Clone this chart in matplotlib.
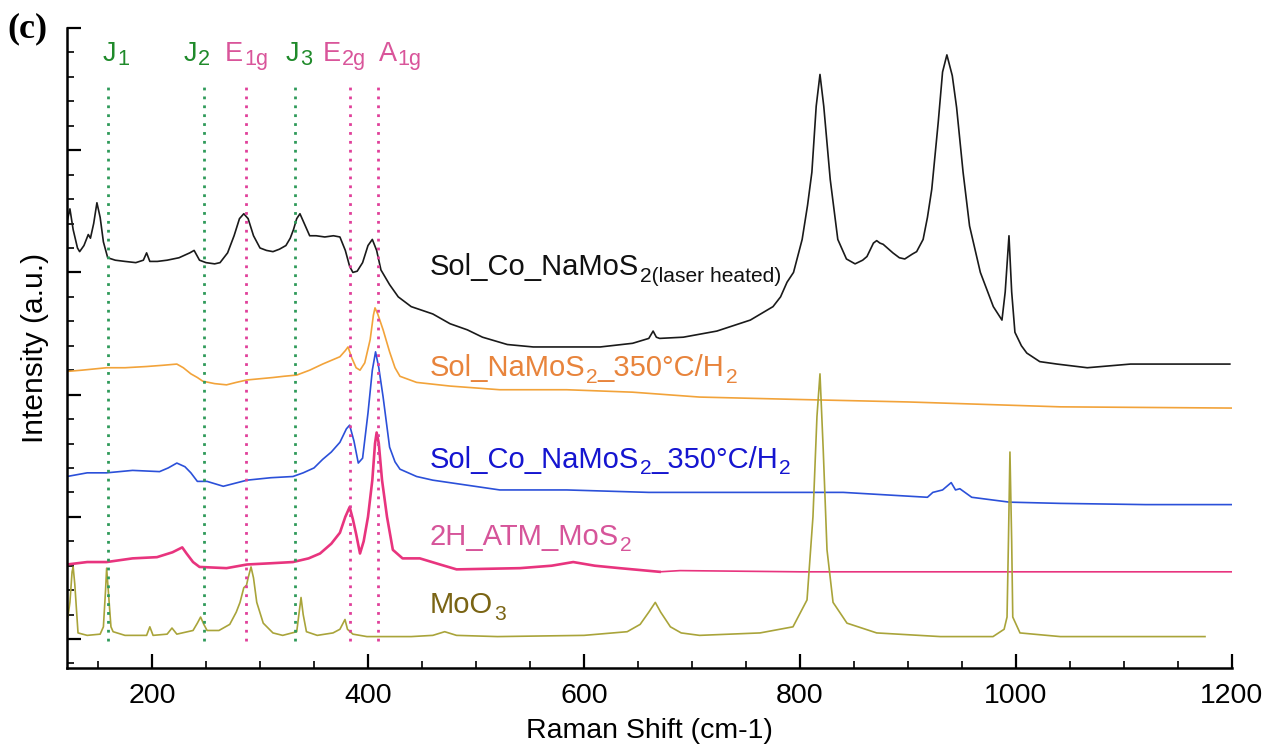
import numpy as np
import matplotlib
matplotlib.use("Agg")
import matplotlib.pyplot as plt
from matplotlib.ticker import MultipleLocator, NullFormatter

plt.rcParams['font.family'] = ['Liberation Sans', 'DejaVu Sans']

# ---------------- data (offsets included) ----------------
black_x = [121.5, 124, 127, 131, 133, 137, 141, 143, 146, 149, 152, 155, 159, 166, 175, 185, 192, 195, 198,
           205, 214, 225, 235, 239, 244, 250, 258, 263, 270, 276, 281, 285, 289, 294, 300, 306, 312, 318,
           324, 328, 331, 334, 337, 341, 346, 352, 360, 368, 374, 379, 383, 386, 390, 395, 400, 404, 408,
           412, 416, 420, 428, 440, 460, 476, 492, 506, 529, 553, 584, 615, 645, 660, 664, 667, 670, 692,
           723, 754, 775, 782, 788, 794, 802, 807, 811, 815, 818.5, 822, 828, 835, 843, 851, 858, 862,
           868, 871, 874, 877, 886, 892, 897, 904, 908, 914, 918, 922, 928, 932, 936, 939, 941, 945, 951,
           957, 967, 979, 987, 990, 993.5, 996, 999, 1005, 1010, 1022, 1038, 1066, 1106, 1152, 1198]
black_y = [3.42, 3.52, 3.35, 3.20, 3.17, 3.22, 3.31, 3.28, 3.40, 3.57, 3.45, 3.25, 3.12, 3.10, 3.09, 3.08,
           3.10, 3.16, 3.09, 3.09, 3.10, 3.12, 3.16, 3.18, 3.10, 3.08, 3.07, 3.08, 3.16, 3.30, 3.44, 3.48,
           3.44, 3.30, 3.20, 3.18, 3.17, 3.19, 3.22, 3.28, 3.35, 3.44, 3.48, 3.40, 3.30, 3.30, 3.29, 3.30,
           3.29, 3.18, 3.05, 3.00, 3.01, 3.08, 3.22, 3.27, 3.18, 3.02, 2.96, 2.90, 2.80, 2.72, 2.66, 2.58,
           2.53, 2.47, 2.41, 2.39, 2.39, 2.39, 2.42, 2.46, 2.52, 2.47, 2.46, 2.47, 2.52, 2.61, 2.72, 2.80,
           2.92, 3.00, 3.27, 3.55, 3.82, 4.36, 4.62, 4.36, 3.76, 3.27, 3.11, 3.07, 3.10, 3.13, 3.24, 3.26,
           3.24, 3.23, 3.16, 3.12, 3.11, 3.15, 3.17, 3.27, 3.45, 3.68, 4.23, 4.64, 4.78, 4.68, 4.61, 4.35,
           3.82, 3.38, 3.00, 2.72, 2.61, 2.84, 3.30, 2.84, 2.51, 2.40, 2.34, 2.27, 2.25, 2.22, 2.25, 2.25,
           2.25]

orange_x = [121.5, 135, 158, 175, 195, 210, 223, 229, 236, 242, 247, 258, 269, 278, 288, 300, 312, 322,
            334, 346, 358, 366, 374, 379, 381.5, 385, 389, 392.6, 397, 402, 405, 406.5, 409, 414, 420, 425,
            429.6, 445, 476, 522, 584, 645, 707, 800, 900, 1041, 1200]
orange_y = [2.19, 2.20, 2.22, 2.22, 2.23, 2.24, 2.25, 2.22, 2.17, 2.14, 2.11, 2.09, 2.08, 2.10, 2.12, 2.13,
            2.14, 2.15, 2.16, 2.20, 2.25, 2.28, 2.31, 2.36, 2.39, 2.30, 2.22, 2.20, 2.26, 2.45, 2.65, 2.71,
            2.66, 2.53, 2.35, 2.22, 2.15, 2.10, 2.07, 2.04, 2.04, 2.02, 1.98, 1.96, 1.94, 1.90, 1.89]

blue_x = [121.3, 140, 158, 182, 207, 215, 223, 230.5, 236, 242, 251, 266, 288, 310, 330.5, 340, 350, 358,
          366, 374, 380, 383, 387, 391, 395, 400, 404, 407, 410, 414, 420, 425, 429.6, 445, 460, 522, 584,
          660, 763, 840, 918, 923, 932, 940, 944, 948, 959, 994, 1041, 1120, 1200]
blue_y = [1.33, 1.36, 1.36, 1.38, 1.37, 1.40, 1.44, 1.41, 1.36, 1.29, 1.29, 1.25, 1.30, 1.32, 1.33, 1.36,
          1.40, 1.47, 1.53, 1.61, 1.72, 1.75, 1.62, 1.44, 1.48, 1.85, 2.20, 2.35, 2.22, 1.98, 1.57, 1.45,
          1.39, 1.33, 1.30, 1.22, 1.22, 1.20, 1.20, 1.20, 1.16, 1.20, 1.22, 1.28, 1.22, 1.23, 1.16, 1.12,
          1.11, 1.10, 1.10]

pink_x = [121.3, 140, 158, 182, 204.6, 219, 228, 232, 238, 244, 269, 288, 310, 330.5, 345, 355.6, 366,
          374, 379, 383, 386, 389, 392.6, 396, 400, 404, 406.5, 408, 410, 413, 417.6, 423, 432, 448, 466.7,
          482, 540.7, 570, 590, 610, 633, 670, 689, 800, 1000, 1200]
pink_y = [0.61, 0.63, 0.63, 0.66, 0.67, 0.71, 0.75, 0.70, 0.63, 0.59, 0.58, 0.61, 0.62, 0.63, 0.66, 0.70,
          0.78, 0.87, 1.00, 1.08, 0.98, 0.86, 0.70, 0.80, 1.00, 1.30, 1.60, 1.69, 1.60, 1.30, 1.00, 0.73,
          0.66, 0.66, 0.61, 0.57, 0.58, 0.60, 0.63, 0.60, 0.58, 0.55, 0.56, 0.55, 0.55, 0.55]

moo3_x = [121.3, 124, 126, 127, 128.5, 131.5, 140, 152, 155, 157, 158, 159.5, 162, 164, 175, 195, 198, 201,
          214, 218.5, 223, 238, 242, 245, 248, 251, 262, 272, 278, 281.5, 285, 287.5, 289, 291.7, 294, 297,
          303, 312, 321, 334, 336, 338, 340, 343, 353, 367.6, 374, 378.7, 381, 386, 399, 440, 460, 471,
          482, 520, 600, 640, 652, 660, 666, 671, 680, 690, 707, 763, 793.5, 806.5, 812, 815.7, 818.5,
          821.5, 825, 830.6, 843.5, 871, 930, 978.7, 989, 991.7, 993, 994.4, 996, 997, 1003.7, 1041, 1175]
moo3_y = [0.13, 0.30, 0.55, 0.59, 0.45, 0.05, 0.03, 0.04, 0.10, 0.40, 0.58, 0.40, 0.10, 0.06, 0.03, 0.03,
          0.10, 0.03, 0.04, 0.09, 0.04, 0.07, 0.13, 0.18, 0.12, 0.07, 0.07, 0.12, 0.22, 0.30, 0.42, 0.44,
          0.50, 0.59, 0.50, 0.30, 0.13, 0.05, 0.03, 0.06, 0.20, 0.34, 0.20, 0.06, 0.03, 0.05, 0.08, 0.16,
          0.08, 0.04, 0.02, 0.02, 0.03, 0.06, 0.03, 0.02, 0.03, 0.06, 0.12, 0.22, 0.30, 0.22, 0.10, 0.05,
          0.03, 0.05, 0.10, 0.32, 1.00, 1.82, 2.17, 1.55, 0.73, 0.30, 0.13, 0.05, 0.02, 0.02, 0.08, 0.18,
          0.80, 1.53, 0.80, 0.18, 0.05, 0.02, 0.02]

# labels: list of (text, is_subscript) pieces
series_labels = [[('Sol_Co_NaMoS', False), ('2(laser heated)', True)],
                 [('Sol_NaMoS', False), ('2', True), ('_350°C/H', False), ('2', True)],
                 [('Sol_Co_NaMoS', False), ('2', True), ('_350°C/H', False), ('2', True)],
                 [('2H_ATM_MoS', False), ('2', True)],
                 [('MoO', False), ('3', True)]]
label_y = [2.975, 2.15, 1.40, 0.77, 0.21]
label_x = 457

peak_names = [[('J', False), ('1', True)], [('J', False), ('2', True)], [('E', False), ('1g', True)],
              [('J', False), ('3', True)], [('E', False), ('2g', True)], [('A', False), ('1g', True)]]
peak_pos = [159, 248, 287, 332, 383, 409]
peak_kind = ['J', 'J', 'E', 'J', 'E', 'E']

# ---------------- figure ----------------
fig = plt.figure(figsize=(12.69, 7.49), dpi=100)
ax = fig.add_axes([67/1269, 81/749, (1232-67)/1269, (668-28)/749])
renderer = fig.canvas.get_renderer()


def rich(x, y, parts, size, color, off=0.0, sub_scale=0.72, drop=0.22):
    dx = off
    for s, sub in parts:
        fs = size * sub_scale if sub else size
        dy = -drop * size * 100 / 72 if sub else 0
        t = ax.annotate(s, xy=(x, y), xytext=(dx, dy), textcoords='offset pixels',
                        fontsize=fs, color=color, ha='left', va='baseline',
                        annotation_clip=False)
        dx += t.get_window_extent(renderer).width + (1.0 if not sub else 0)


line_cols = ['#1a1a1a', '#f2a33a', '#2b50d9', '#e8347e', '#a9a43a']
text_cols = ['#111111', '#e8843c', '#1515d0', '#d6559a', '#7a6414']

ax.plot(black_x, black_y, color=line_cols[0], lw=1.2)
ax.plot(orange_x, orange_y, color=line_cols[1], lw=1.2)
ax.plot(blue_x, blue_y, color=line_cols[2], lw=1.2)
px = np.array(pink_x); py = np.array(pink_y)
m1 = px <= 670
ax.plot(px[m1], py[m1], color=line_cols[3], lw=1.9)
m2 = px >= 670
ax.plot(px[m2], py[m2], color=line_cols[3], lw=1.2)
ax.plot(moo3_x, moo3_y, color=line_cols[4], lw=1.2)

ax.set_xlim(121.3, 1200)
ax.set_ylim(-0.237, 5.0)

for parts, yy, c in zip(series_labels, label_y, text_cols):
    rich(label_x, yy, parts, 21, c)

line_c = {'J': '#2f9a5a', 'E': '#e0409a'}
txt_c = {'J': '#1f8a2a', 'E': '#d9559a'}
offs = [-5, -20, -21, -9, -27, 1]
for parts, pos, kind, off in zip(peak_names, peak_pos, peak_kind, offs):
    ax.plot([pos, pos], [-0.02, 4.52], color=line_c[kind], lw=2, ls=(0, (1, 2.2)))
    rich(pos, 4.73, parts, 19.5, txt_c[kind], off=off, sub_scale=0.8, drop=0.16)

ax.xaxis.set_major_locator(MultipleLocator(200))
ax.xaxis.set_minor_locator(MultipleLocator(50))
ax.yaxis.set_major_locator(MultipleLocator(1))
ax.yaxis.set_minor_locator(MultipleLocator(0.2))
ax.yaxis.set_major_formatter(NullFormatter())
ax.tick_params(which='major', direction='in', length=10, width=1.6, labelsize=20.5, pad=11)
ax.tick_params(which='minor', direction='in', length=5, width=1.2)
for s in ['top', 'right']:
    ax.spines[s].set_visible(False)
for s in ['left', 'bottom']:
    ax.spines[s].set_linewidth(1.8)

ax.set_xlabel('Raman Shift (cm-1)', fontsize=20.5, labelpad=6)
ax.set_ylabel('Intensity (a.u.)', fontsize=21.5, labelpad=2)

fig.text(7/1269, 1 - 37/749, '(c)', fontsize=26, fontweight='bold',
         family='Liberation Serif', va='baseline', ha='left')

fig.savefig('out.png', dpi=100)
